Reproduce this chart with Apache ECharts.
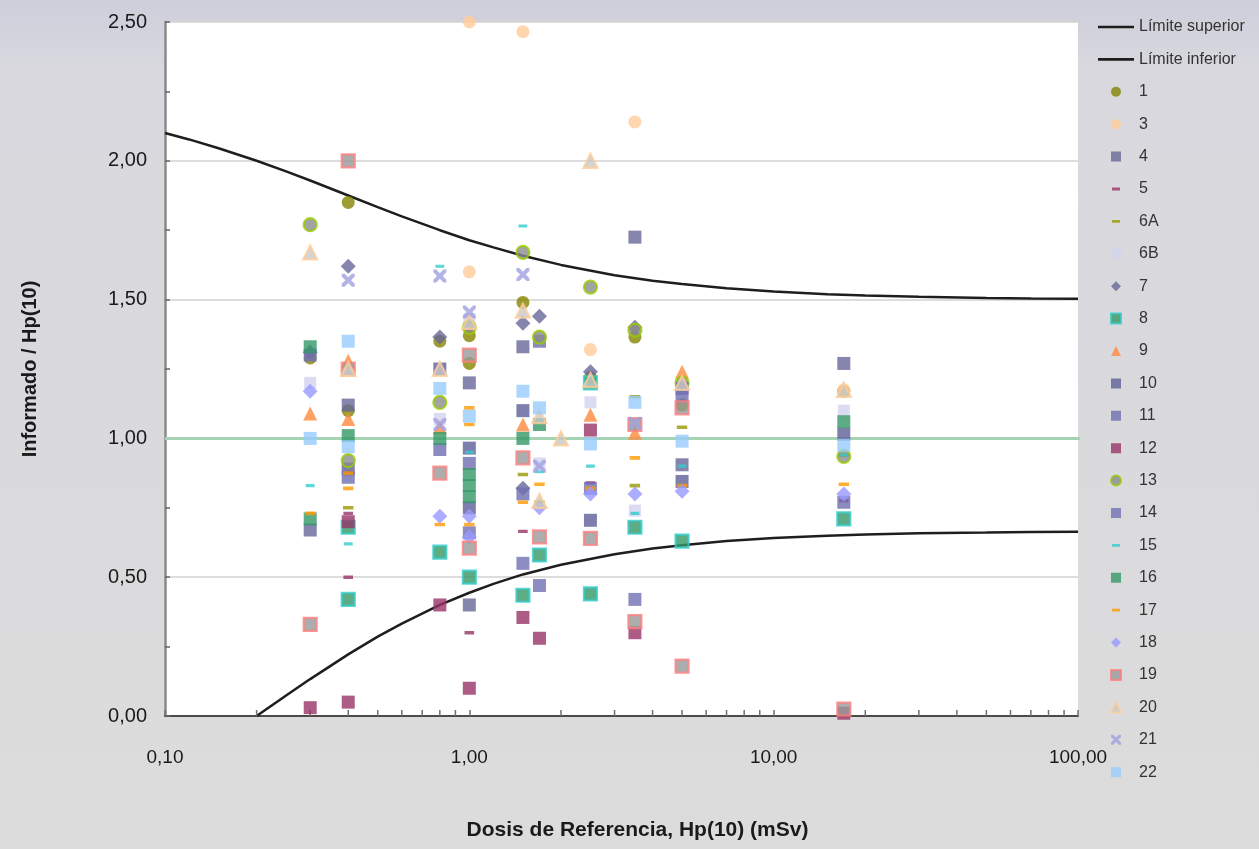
<!DOCTYPE html>
<html>
<head>
<meta charset="utf-8">
<script src="https://cdn.jsdelivr.net/npm/echarts@6/dist/echarts.min.js"></script>
<style>
  html, body { margin: 0; padding: 0; }
  #chart { width: 1259px; height: 849px; }
</style>
</head>
<body>
<div id="chart"></div>
<script>
// ---- Trumpet limits (reference dose in mSv, ratio reported / Hp(10)) ----
const upperX = [0.1, 0.12, 0.15, 0.2, 0.25, 0.3, 0.4, 0.5, 0.6, 0.8, 1, 1.2, 1.5, 2, 3, 4, 5, 7, 10, 15, 20, 30, 50, 70, 100];
const upperLimit = [2.100, 2.077, 2.045, 2.000, 1.962, 1.929, 1.875, 1.833, 1.800, 1.750, 1.714, 1.688, 1.658, 1.625, 1.588, 1.568, 1.556, 1.541, 1.529, 1.519, 1.515, 1.510, 1.506, 1.504, 1.503];
const lowerX = [0.2, 0.25, 0.3, 0.4, 0.5, 0.6, 0.8, 1, 1.2, 1.5, 2, 3, 4, 5, 7, 10, 15, 20, 30, 50, 70, 100];
const lowerLimit = [0, 0.074, 0.133, 0.222, 0.286, 0.333, 0.400, 0.444, 0.476, 0.510, 0.545, 0.583, 0.603, 0.615, 0.630, 0.641, 0.649, 0.654, 0.658, 0.661, 0.663, 0.664];
// Ideal ratio line (runs a little past the last decade, into the legend column)
const idealX = [0.1, 122];
const idealY = [1, 1];

// ---- Axis ticks ----
const yTicks = [0, 0.5, 1, 1.5, 2, 2.5];
const xDecades = [0.1, 1, 10, 100];
const xMinorTicks = [0.2, 0.3, 0.4, 0.5, 0.6, 0.7, 0.8, 0.9, 2, 3, 4, 5, 6, 7, 8, 9, 20, 30, 40, 50, 60, 70, 80, 90];

// ---- Participant results: [reference dose, reported / Hp(10)] ----
const ser1  = [[0.3, 1.29], [0.4, 1.85], [0.4, 1.10], [0.8, 1.35], [1.0, 1.37], [1.0, 1.27], [1.5, 1.49], [2.5, 1.22], [3.5, 1.365], [5.0, 1.12], [17, 1.17]];
const ser3  = [[1.0, 2.50], [1.5, 2.465], [3.5, 2.14], [1.0, 1.60], [2.5, 1.32], [17, 1.175]];
const ser4  = [[0.3, 0.67], [0.4, 1.12], [1.0, 1.20], [1.5, 1.33], [3.5, 1.725], [17, 1.27], [5.0, 0.905], [1.0, 0.40]];
const ser5  = [[0.4, 0.73], [0.4, 0.50], [1.0, 0.30], [1.5, 0.665], [2.5, 0.84], [17, 0.775]];
const ser6A = [[0.4, 0.75], [1.5, 0.87], [1.7, 0.77], [3.5, 0.83], [5.0, 1.04], [3.5, 1.15], [17, 0.94]];
const ser6B = [[0.3, 1.20], [0.8, 1.07], [1.0, 1.43], [1.7, 0.91], [2.5, 1.13], [17, 1.10], [3.5, 0.74]];
const ser7  = [[0.3, 1.31], [0.4, 1.62], [0.8, 1.365], [1.5, 1.415], [1.7, 1.44], [2.5, 1.24], [3.5, 1.40], [1.5, 0.82]];
const ser8  = [[0.4, 0.68], [0.4, 0.42], [0.8, 0.59], [1.0, 0.50], [1.5, 0.435], [1.7, 0.58], [2.5, 0.44], [3.5, 0.68], [5.0, 0.63], [17, 0.71], [2.5, 1.20]];
const ser9  = [[0.3, 1.09], [0.4, 1.28], [0.4, 1.07], [0.8, 1.04], [1.5, 1.05], [2.5, 1.085], [3.5, 1.02], [5.0, 1.24]];
const ser10 = [[0.4, 0.89], [0.8, 1.25], [1.0, 0.965], [1.0, 0.75], [1.5, 1.10], [2.5, 0.705], [5.0, 0.845], [17, 1.015]];
const ser11 = [[0.4, 0.86], [0.8, 0.96], [1.0, 0.91], [1.5, 0.80], [1.7, 1.35], [5.0, 1.15], [17, 0.77]];
const ser12 = [[0.3, 0.03], [0.4, 0.05], [0.4, 0.70], [0.8, 0.40], [1.0, 0.10], [1.5, 0.355], [1.7, 0.28], [2.5, 1.03], [3.5, 0.30], [17, 0.01]];
const ser13 = [[0.3, 1.77], [0.4, 0.92], [0.8, 1.13], [1.0, 1.40], [1.5, 1.67], [1.7, 1.365], [2.5, 1.545], [3.5, 1.39], [5.0, 1.20], [17, 0.935]];
const ser14 = [[0.3, 1.30], [1.0, 0.66], [1.5, 0.55], [1.7, 0.47], [3.5, 0.42], [2.5, 0.82], [5.0, 1.18]];
const ser15 = [[0.3, 0.83], [0.4, 0.62], [0.8, 1.62], [1.0, 0.95], [1.5, 1.765], [1.7, 0.88], [2.5, 0.90], [3.5, 0.73], [5.0, 0.90], [17, 0.94]];
const ser16 = [[0.3, 1.33], [0.3, 0.71], [0.4, 1.01], [0.8, 1.00], [1.0, 0.87], [1.0, 0.83], [1.0, 0.79], [1.5, 1.00], [1.7, 1.05], [17, 1.06]];
const ser17 = [[0.3, 0.73], [0.4, 0.875], [0.4, 0.82], [0.8, 0.69], [1.0, 1.11], [1.0, 1.05], [1.0, 0.69], [1.5, 0.77], [1.7, 0.835], [2.5, 0.82], [3.5, 0.93], [5.0, 0.83], [17, 0.835]];
const ser18 = [[0.3, 1.17], [0.8, 0.72], [1.0, 0.72], [1.0, 0.645], [1.7, 0.75], [2.5, 0.80], [3.5, 0.80], [5.0, 0.81], [17, 0.80]];
const ser19 = [[0.3, 0.33], [0.4, 2.00], [0.4, 1.25], [0.8, 0.875], [1.0, 1.30], [1.0, 0.605], [1.5, 0.93], [1.7, 0.645], [2.5, 0.64], [3.5, 0.34], [3.5, 1.05], [5.0, 0.18], [5.0, 1.11], [17, 0.025]];
const ser20 = [[0.3, 1.67], [0.4, 1.25], [0.8, 1.25], [1.0, 1.42], [1.5, 1.46], [1.7, 1.08], [1.7, 0.775], [2.0, 1.00], [2.5, 2.00], [2.5, 1.21], [5.0, 1.20], [17, 1.175]];
const ser21 = [[0.4, 1.57], [0.8, 1.585], [0.8, 1.05], [1.0, 1.455], [1.5, 1.59], [1.7, 0.90], [3.5, 1.055]];
const ser22 = [[0.3, 1.00], [0.4, 1.35], [0.4, 0.97], [0.8, 1.18], [1.0, 1.08], [1.5, 1.17], [1.7, 1.11], [2.5, 0.98], [3.5, 1.13], [5.0, 0.99], [17, 0.975]];

// ---- Marker shapes (10x10 boxes) ----
const DASH_SHAPE = 'M1,3.6H9V6.4H1Z';
const CROSS_SHAPE = 'M0,0L2.2,0L5,2.8L7.8,0L10,0L10,2.2L7.2,5L10,7.8L10,10L7.8,10L5,7.2L2.2,10L0,10L0,7.8L2.8,5L0,2.2Z';
const RECT_SHAPE = 'M0,0H10V10H0Z';
const DIAMOND_SHAPE = 'M5,0L10,5L5,10L0,5Z';
const TRIANGLE_SHAPE = 'M5,0L10,10H0Z';
const BOX_CORNERS = 'M0,0L0.01,0M10,10L9.99,10';
const DASH = 'path://' + BOX_CORNERS + DASH_SHAPE;
const CROSS = 'path://' + CROSS_SHAPE;

// Legend icons: the shape centred in a 36x10 slot so it keeps its proportions
function legendIcon(shape) {
  const moved = shape.replace(/([MLHV])([\d.]+)(?:,([\d.]+))?/g, (m, c, a, b) => {
    if (c === 'V') return c + a;
    if (c === 'H') return c + (parseFloat(a) + 13);
    return c + (parseFloat(a) + 13) + ',' + b;
  });
  return 'path://M0,0L0.01,0M36,10L35.99,10' + moved;
}
const shapeOf = { rect: RECT_SHAPE, diamond: DIAMOND_SHAPE, triangle: TRIANGLE_SHAPE };

const pointSeries = [
  { name: '1',  data: ser1,  symbol: 'circle',   size: 13, color: '#848400' },
  { name: '3',  data: ser3,  symbol: 'circle',   size: 13, color: '#ffcc99' },
  { name: '4',  data: ser4,  symbol: 'rect',     size: 13, color: '#666699' },
  { name: '5',  data: ser5,  symbol: 'dash',     size: 12, color: '#993366' },
  { name: '6A', data: ser6A, symbol: 'dash',     size: 13, color: '#999900' },
  { name: '6B', data: ser6B, symbol: 'rect',     size: 12, color: '#d2d2f0' },
  { name: '7',  data: ser7,  symbol: 'diamond',  size: 15, color: '#666699' },
  { name: '8',  data: ser8,  symbol: 'rect',     size: 13, color: '#339966', border: '#33cccc' },
  { name: '9',  data: ser9,  symbol: 'triangle', size: 14, color: '#ff8a3d' },
  { name: '10', data: ser10, symbol: 'rect',     size: 13, color: '#5f5f99' },
  { name: '11', data: ser11, symbol: 'rect',     size: 13, color: '#6e6eb0' },
  { name: '12', data: ser12, symbol: 'rect',     size: 13, color: '#993366' },
  { name: '13', data: ser13, symbol: 'circle',   size: 13, color: '#8c8c8c', border: '#99cc00' },
  { name: '14', data: ser14, symbol: 'rect',     size: 13, color: '#7070b4' },
  { name: '15', data: ser15, symbol: 'dash',     size: 11, color: '#33cccc' },
  { name: '16', data: ser16, symbol: 'rect',     size: 13, color: '#339966' },
  { name: '17', data: ser17, symbol: 'dash',     size: 13, color: '#ff9900' },
  { name: '18', data: ser18, symbol: 'diamond',  size: 15, color: '#9999ff' },
  { name: '19', data: ser19, symbol: 'rect',     size: 13, color: '#999999', border: '#ff8080' },
  { name: '20', data: ser20, symbol: 'triangle', size: 14, color: '#c8c8c8', border: '#ffcc99' },
  { name: '21', data: ser21, symbol: 'cross',    size: 13, color: '#a0a0e0' },
  { name: '22', data: ser22, symbol: 'rect',     size: 13, color: '#99ccff' }
];

const fmtComma = v => Number(v).toFixed(2).replace('.', ',');
const FONT = 'Liberation Sans, Arial, sans-serif';
const LIMIT_COLOR = '#1e1e1e';

const chart = echarts.init(document.getElementById('chart'), null, { renderer: 'canvas' });

const series = [
  {
    name: 'Ideal',
    type: 'line',
    data: idealX.map((x, i) => [x, idealY[i]]),
    symbol: 'none',
    clip: false,
    lineStyle: { color: '#a6d3b4', width: 3 },
    silent: true,
    z: 1
  },
  {
    name: 'Límite superior',
    type: 'line',
    data: upperX.map((x, i) => [x, upperLimit[i]]),
    symbol: 'none',
    itemStyle: { color: LIMIT_COLOR },
    lineStyle: { color: LIMIT_COLOR, width: 2.5 },
    z: 2
  },
  {
    name: 'Límite inferior',
    type: 'line',
    data: lowerX.map((x, i) => [x, lowerLimit[i]]),
    symbol: 'none',
    itemStyle: { color: LIMIT_COLOR },
    lineStyle: { color: LIMIT_COLOR, width: 2.5 },
    z: 2
  },
  {
    name: 'xMinorTicks',
    type: 'custom',
    data: xMinorTicks.map(v => [v, 0]),
    silent: true,
    z: 3,
    renderItem: (params, api) => {
      const p = api.coord([api.value(0), 0]);
      return {
        type: 'line',
        shape: { x1: p[0], y1: p[1], x2: p[0], y2: p[1] - 6 },
        style: { stroke: '#707070', lineWidth: 1.5 }
      };
    }
  }
];

const symbolFor = s => s.symbol === 'dash' ? DASH : s.symbol === 'cross' ? CROSS : s.symbol;

pointSeries.forEach(s => {
  series.push({
    name: s.name,
    type: 'scatter',
    data: s.data,
    symbol: symbolFor(s),
    symbolSize: s.size,
    itemStyle: {
      color: s.color,
      borderColor: s.border || s.color,
      borderWidth: s.border ? 2.2 : 0
    },
    z: 4
  });
});

const legendData = [
  { name: 'Límite superior', icon: 'path://M0,0H36V2.6H0Z', itemStyle: { color: LIMIT_COLOR } },
  { name: 'Límite inferior', icon: 'path://M0,0H36V2.6H0Z', itemStyle: { color: LIMIT_COLOR } }
].concat(pointSeries.map(s => {
  let icon;
  if (s.symbol === 'circle') icon = 'circle';
  else if (s.symbol === 'dash') icon = legendIcon(DASH_SHAPE);
  else if (s.symbol === 'cross') icon = legendIcon(CROSS_SHAPE);
  else icon = legendIcon(shapeOf[s.symbol]);
  return { name: s.name, icon: icon };
}));

chart.setOption({
  animation: false,
  backgroundColor: {
    type: 'linear', x: 0, y: 0, x2: 0, y2: 1,
    colorStops: [
      { offset: 0, color: '#cdcedb' },
      { offset: 0.08, color: '#d8d8de' },
      { offset: 1, color: '#dcdcdc' }
    ]
  },
  grid: { left: 165, right: 181, top: 22, bottom: 133, backgroundColor: '#ffffff', show: true, borderWidth: 0 },
  legend: {
    orient: 'vertical',
    left: 1097,
    top: 18,
    padding: 0,
    itemWidth: 36,
    itemHeight: 10,
    itemGap: 14.4,
    data: legendData,
    selectedMode: false,
    textStyle: { fontFamily: FONT, fontSize: 16, color: '#333333', lineHeight: 18 }
  },
  xAxis: {
    type: 'log',
    logBase: 10,
    min: xDecades[0],
    max: xDecades[xDecades.length - 1],
    name: 'Dosis de Referencia, Hp(10) (mSv)',
    nameLocation: 'middle',
    nameGap: 104,
    nameTextStyle: { fontFamily: FONT, fontSize: 21, fontWeight: 'bold', color: '#1a1a1a', padding: [0, 0, 0, 32] },
    axisLine: { show: true, lineStyle: { color: '#4a4a4a', width: 2 } },
    axisTick: { show: true, inside: true, length: 6, lineStyle: { color: '#707070', width: 1.5 } },
    splitLine: { show: false },
    axisLabel: {
      margin: 32,
      fontFamily: FONT,
      fontSize: 19,
      color: '#1a1a1a',
      formatter: v => fmtComma(v)
    }
  },
  yAxis: {
    type: 'value',
    min: yTicks[0],
    max: yTicks[yTicks.length - 1],
    interval: 0.5,
    name: 'Informado / Hp(10)',
    nameLocation: 'middle',
    nameGap: 125,
    nameTextStyle: { fontFamily: FONT, fontSize: 20, fontWeight: 'bold', color: '#1a1a1a' },
    axisLine: { show: true, lineStyle: { color: '#8a8a8a', width: 2.5 } },
    axisTick: { show: true, inside: true, length: 5, lineStyle: { color: '#666666', width: 1.5 } },
    minorTick: { show: true, splitNumber: 2, length: 5, lineStyle: { color: '#666666', width: 1.5 } },
    splitLine: { show: true, lineStyle: { color: '#d2d2d2', width: 1.5 } },
    axisLabel: {
      margin: 18,
      fontFamily: FONT,
      fontSize: 20,
      color: '#1a1a1a',
      formatter: v => fmtComma(v)
    }
  },
  series: series
});
</script>
</body>
</html>
